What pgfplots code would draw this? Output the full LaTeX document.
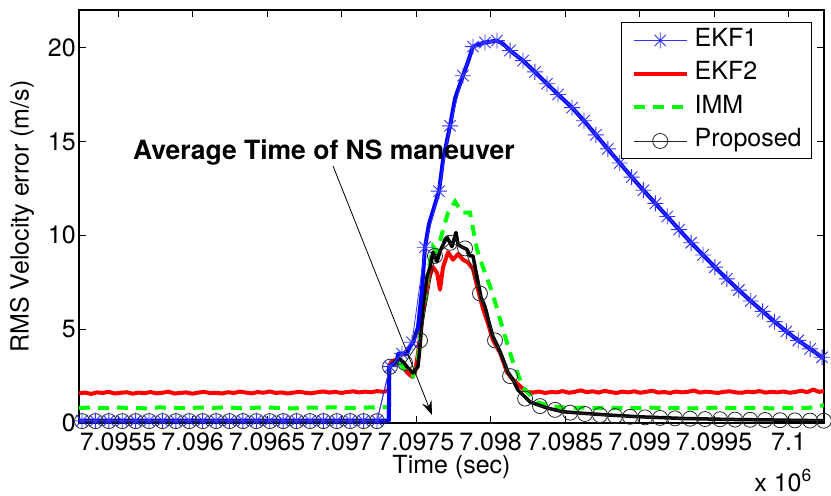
\documentclass[border=0pt]{standalone}
\usepackage{fontspec}
\setmainfont{TeX Gyre Heros}
\usepackage{pgfplots}
\pgfplotsset{compat=1.18}
\usetikzlibrary{arrows.meta}

\pgfdeclareplotmark{mstar}{%
  \pgfpathmoveto{\pgfqpoint{-\pgfplotmarksize}{0pt}}%
  \pgfpathlineto{\pgfqpoint{\pgfplotmarksize}{0pt}}%
  \pgfpathmoveto{\pgfqpoint{0pt}{-\pgfplotmarksize}}%
  \pgfpathlineto{\pgfqpoint{0pt}{\pgfplotmarksize}}%
  \pgfpathmoveto{\pgfqpoint{-0.7071\pgfplotmarksize}{-0.7071\pgfplotmarksize}}%
  \pgfpathlineto{\pgfqpoint{0.7071\pgfplotmarksize}{0.7071\pgfplotmarksize}}%
  \pgfpathmoveto{\pgfqpoint{-0.7071\pgfplotmarksize}{0.7071\pgfplotmarksize}}%
  \pgfpathlineto{\pgfqpoint{0.7071\pgfplotmarksize}{-0.7071\pgfplotmarksize}}%
  \pgfusepathqstroke}

\newcommand{\bigf}{\fontsize{25}{29}\selectfont}

\begin{document}
\begin{tikzpicture}
\begin{axis}[
  scale only axis, width=745pt, height=413pt,
  xmin=238, xmax=5238, ymin=0, ymax=22,
  xtick={500,1000,1500,2000,2500,3000,3500,4000,4500,5000},
  xticklabels={7.0955,7.096,7.0965,7.097,7.0975,7.098,7.0985,7.099,7.0995,7.1},
  ytick={0,5,10,15,20},
  tick pos=both, tick align=inside, major tick length=7pt,
  axis line style={line width=1.2pt},
  every tick/.style={black, line width=1pt},
  /pgf/number format/assume math mode=true,
  tick label style={font=\bigf},
  xticklabel style={inner sep=0pt, yshift=-10pt, anchor=north},
  yticklabel style={inner sep=0pt, xshift=-3pt, anchor=east},
  xlabel={Time (sec)}, ylabel={RMS Velocity error (m/s)},
  every axis x label/.style={at={(axis description cs:0.5,-0.1065)}, anchor=center, font=\bigf},
  every axis y label/.style={at={(axis description cs:-0.0765,0.5)}, rotate=90, anchor=center, font=\bigf},
  legend style={at={(0.984,0.971)}, anchor=north east, draw=black, line width=1pt, font=\bigf,
    inner xsep=10pt, inner ysep=7pt, row sep=11.5pt, column sep=6pt,
    nodes={inner sep=0pt, text height=17pt, text depth=5pt}},
  legend cell align=left,
  legend image code/.code={\draw[mark repeat=2,mark phase=2,#1] plot coordinates {(0pt,0pt) (26.5pt,0pt) (53pt,0pt)};},
]
% EKF2 (red)
\addplot[red, line width=4pt, line join=round, forget plot] coordinates {
(238,1.58)(278,1.62)(318,1.55)(358,1.63)(398,1.60)(438,1.66)(478,1.57)(518,1.61)(558,1.64)(598,1.56)
(638,1.62)(678,1.59)(718,1.65)(758,1.58)(798,1.61)(838,1.67)(878,1.57)(918,1.60)(958,1.63)(998,1.56)
(1038,1.62)(1078,1.66)(1118,1.59)(1158,1.61)(1198,1.57)(1238,1.64)(1278,1.60)(1318,1.67)(1358,1.62)(1398,1.58)
(1438,1.65)(1478,1.61)(1518,1.68)(1558,1.60)(1598,1.63)(1638,1.57)(1678,1.62)(1718,1.66)(1758,1.61)(1798,1.58)
(1838,1.64)(1878,1.68)(1918,1.62)(1958,1.66)(1998,1.60)(2038,1.65)(2078,1.69)(2118,1.63)(2158,1.67)(2198,1.64)
(2238,1.70)(2278,1.66)(2316,1.72)
(2322,3.1)(2340,3.3)(2379,3.4)(2439,2.7)(2473,2.46)(2493,2.67)(2513,3.7)(2547,5.9)(2580,7.6)(2614,8.3)
(2641,8.0)(2661,7.1)(2681,8.3)(2715,9.1)(2748,8.7)(2782,9.0)(2815,8.7)(2849,8.55)(2882,8.2)(2916,7.1)
(2949,6.1)(2983,5.3)(3017,4.4)(3064,3.75)(3111,2.7)(3151,2.3)(3211,1.87)(3245,1.66)
(3285,1.62)(3325,1.68)(3365,1.60)(3405,1.65)(3445,1.63)(3485,1.70)(3525,1.61)(3565,1.66)(3605,1.74)
(3645,1.64)(3685,1.69)(3725,1.62)(3765,1.71)(3805,1.65)(3845,1.60)(3885,1.67)(3925,1.63)(3965,1.69)(4005,1.61)
(4045,1.66)(4085,1.72)(4125,1.62)(4165,1.65)(4205,1.60)(4245,1.68)(4285,1.63)(4325,1.66)(4365,1.73)(4405,1.62)
(4445,1.67)(4485,1.64)(4525,1.60)(4565,1.66)(4605,1.69)(4645,1.63)(4685,1.61)(4725,1.67)(4765,1.64)(4805,1.70)
(4845,1.62)(4885,1.66)(4925,1.63)(4965,1.68)(5005,1.61)(5045,1.65)(5085,1.72)(5125,1.64)(5165,1.78)(5205,1.66)(5238,1.70)
};
% IMM (green dashed)
\addplot[green, line width=4pt, dash pattern=on 11pt off 8pt, forget plot] coordinates {
(238,0.80)(328,0.83)(418,0.79)(508,0.82)(598,0.80)(688,0.78)(778,0.83)(868,0.81)(958,0.79)(1048,0.82)
(1138,0.80)(1228,0.84)(1318,0.79)(1408,0.81)(1498,0.83)(1588,0.80)(1678,0.78)(1768,0.82)(1858,0.81)(1948,0.84)
(2038,0.80)(2128,0.82)(2218,0.83)(2316,0.85)
(2322,3.0)(2379,3.3)(2439,2.7)(2480,2.5)(2513,3.4)(2547,6.0)(2580,8.0)(2614,9.4)(2641,9.1)(2688,10.5)
(2715,11.2)(2762,11.8)(2809,11.2)(2862,11.2)(2909,9.25)(2949,8.3)(3010,7.0)(3050,5.9)(3090,4.8)(3144,3.4)
(3218,1.9)(3312,1.1)(3446,0.85)
(3540,0.80)(3630,0.82)(3720,0.79)(3810,0.81)(3900,0.78)(3990,0.80)(4080,0.82)(4170,0.79)(4260,0.81)(4350,0.78)
(4440,0.80)(4530,0.82)(4620,0.79)(4710,0.81)(4800,0.80)(4890,0.78)(4980,0.81)(5070,0.79)(5160,0.82)(5238,0.95)
};
% Proposed (black thick)
\addplot[black, line width=3.5pt, line join=round, forget plot] coordinates {
(238,0.1)(2316,0.1)(2320,3.0)(2366,3.3)(2379,3.5)(2420,3.2)(2439,3.0)(2480,2.67)(2513,3.0)(2527,4.1)
(2547,6.2)(2574,7.8)(2594,8.3)(2614,9.1)(2641,8.6)(2661,9.15)(2688,9.6)(2708,9.9)(2741,9.4)(2768,10.15)
(2782,9.5)(2815,9.35)(2842,9.25)(2862,8.9)(2882,8.9)(2909,7.8)(2936,6.7)(2963,6.2)(2990,5.35)(3017,4.6)
(3050,4.05)(3084,3.4)(3117,2.7)(3151,2.3)(3184,1.76)(3265,1.12)(3379,0.8)(3486,0.6)(3600,0.53)(3782,0.43)
(4000,0.33)(4300,0.24)(4600,0.19)(4900,0.16)(5238,0.12)
};
% EKF1 (blue thick)
\addplot[blue, line width=4pt, line join=round, forget plot] coordinates {
(238,0.12)(2318,0.12)(2320,3.0)(2372,3.25)(2379,3.7)(2439,3.7)(2460,4.1)(2480,4.3)(2513,5.1)(2540,7.1)
(2560,9.36)(2587,10.6)(2614,11.3)(2654,12.35)(2681,14.0)(2728,15.83)(2762,17.3)(2815,18.5)(2849,19.25)(2882,20.05)
(2929,20.2)(2963,20.27)(3043,20.37)(3084,20.2)(3131,19.84)(3218,19.3)(3298,18.7)(3379,18.07)(3453,17.5)(3547,16.8)
(3627,16.1)(3707,15.35)(3787,14.6)(3867,13.85)(3947,13.1)(4026,12.4)(4106,11.7)(4186,11.0)(4266,10.3)(4346,9.6)
(4426,8.95)(4506,8.3)(4586,7.68)(4666,7.08)(4746,6.5)(4826,5.95)(4906,5.4)(4985,4.88)(5065,4.4)(5145,3.95)
(5225,3.5)(5238,3.45)
};
% Proposed markers
\addplot[black!85, line width=0.8pt, mark=o, mark size=7.5pt, mark options={solid, line width=0.8pt}, forget plot] coordinates {
(258,0.1)(348,0.1)(438,0.1)(528,0.1)(618,0.1)(708,0.1)(798,0.1)(888,0.1)(978,0.1)(1068,0.1)
(1158,0.1)(1248,0.1)(1338,0.1)(1428,0.1)(1518,0.1)(1608,0.1)(1698,0.1)(1788,0.1)(1878,0.1)(1968,0.1)
(2058,0.1)(2148,0.1)(2238,0.1)
(2325,3.0)(2426,3.2)(2527,4.4)(2627,8.9)(2728,9.6)(2829,9.3)(2929,6.9)(3030,4.4)(3131,2.5)(3232,1.3)
(3332,0.9)(3433,0.7)(3534,0.55)(3634,0.48)(3735,0.42)(3836,0.37)(3936,0.33)(4037,0.3)(4138,0.27)(4238,0.25)
(4339,0.23)(4440,0.21)(4540,0.2)(4641,0.18)(4742,0.17)(4842,0.16)(4943,0.15)(5043,0.14)(5144,0.13)(5237,0.12)
};
% EKF1 markers
\addplot[blue!80, line width=0.8pt, mark=mstar, mark size=8pt, mark options={solid, line width=0.9pt}, forget plot] coordinates {
(258,0.12)(348,0.12)(438,0.12)(528,0.12)(618,0.12)(708,0.12)(798,0.12)(888,0.12)(978,0.12)(1068,0.12)
(1158,0.12)(1248,0.12)(1338,0.12)(1428,0.12)(1518,0.12)(1608,0.12)(1698,0.12)(1788,0.12)(1878,0.12)(1968,0.12)
(2058,0.12)(2148,0.12)(2238,0.12)
(2325,3.0)(2406,3.7)(2473,4.3)(2560,9.36)(2654,12.35)(2728,15.83)(2815,18.5)(2882,20.05)(2963,20.27)(3043,20.37)
(3131,19.84)(3218,19.3)(3298,18.7)(3379,18.07)(3453,17.5)(3547,16.8)(3627,16.1)(3707,15.35)(3787,14.6)(3867,13.85)
(3947,13.1)(4026,12.4)(4106,11.7)(4186,11.0)(4266,10.3)(4346,9.6)(4426,8.95)(4506,8.3)(4586,7.68)(4666,7.08)
(4746,6.5)(4826,5.95)(4906,5.4)(4985,4.88)(5065,4.4)(5145,3.95)(5225,3.5)
};
\addlegendimage{blue!80, line width=0.8pt, mark=mstar, mark size=8pt}
\addlegendentry{EKF1}
\addlegendimage{red, line width=4pt}
\addlegendentry{EKF2}
\addlegendimage{green, line width=4pt, dash pattern=on 11pt off 8pt}
\addlegendentry{IMM}
\addlegendimage{black!85, line width=0.8pt, mark=o, mark size=7.5pt}
\addlegendentry{Proposed}
\node[anchor=base west, inner sep=0pt, font=\bfseries\fontsize{26.5}{30}\selectfont] at (axis cs:600,14.06) {Average Time of NS maneuver};
\draw[line width=0.8pt, -{Stealth[length=14pt,width=10pt,inset=5pt]}] (axis cs:1943,13.69) -- (axis cs:2607,0.43);
\end{axis}
\node[anchor=base east, inner sep=0pt, font=\bigf] at ([shift={(-12pt,-68pt)}]current axis.south east) {x 10\textsuperscript{6}};
\pgfresetboundingbox
\path ([shift={(-79pt,-72pt)}]current axis.south west) rectangle ([shift={(7pt,10pt)}]current axis.north east);
\end{tikzpicture}
\end{document}
